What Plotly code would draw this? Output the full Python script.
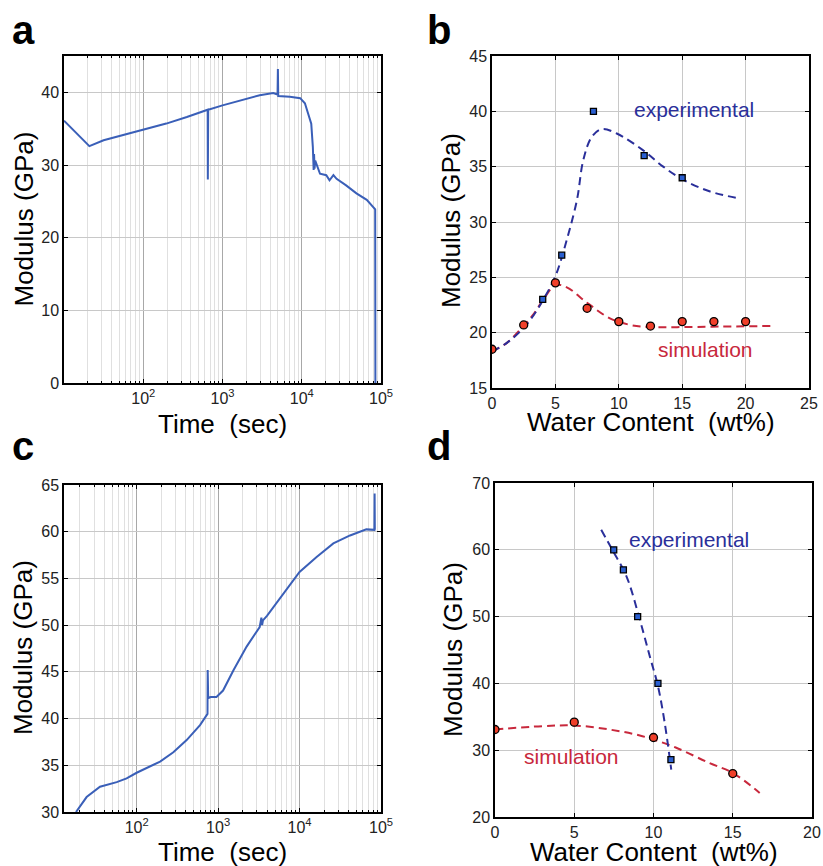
import plotly.graph_objects as go

W, H = 823, 866

# ---------------- data ----------------
# panel a: modulus vs time (log)
a_time = [10, 20.9, 31.6, 100, 195, 355, 631, 650, 653, 656, 660, 1000, 1660, 2950, 4370, 4950, 5000, 5050,
          7080, 9550, 10960, 12020, 13180, 13800, 14130, 14300, 14500, 14800, 17000, 20400, 22400, 25100,
          27500, 36300, 49000, 66100, 83200, 84500, 85000]
a_mod = [36.1, 32.6, 33.4, 34.8, 35.7, 36.6, 37.5, 37.6, 28.0, 37.6, 37.6, 38.2, 38.9, 39.6, 39.9, 39.7, 43.2, 39.5,
         39.4, 39.2, 38.5, 37.1, 35.7, 32.5, 29.3, 31.5, 29.5, 30.6, 28.8, 28.6, 27.9, 28.6,
         28.1, 27.2, 26.1, 25.2, 24.0, 23.9, 0.0]

# panel c: modulus vs time (log)
c_time = [18, 24.3, 35.5, 56.9, 75.3, 100, 194, 282, 411, 600, 741, 745, 750, 755, 760, 813, 955, 1150, 1550,
          2240, 3240, 3400, 3470, 3550, 3980, 6310, 10000, 16200, 26000, 41700, 66100, 83000, 83500, 84000]
c_mod = [30.0, 31.6, 32.7, 33.2, 33.6, 34.2, 35.4, 36.4, 37.7, 39.3, 40.5, 45.2, 41.0, 42.4, 42.2, 42.3, 42.3, 43.0, 45.2,
         47.7, 49.8, 50.8, 50.0, 50.5, 51.0, 53.4, 55.7, 57.3, 58.75, 59.6, 60.25, 60.2, 64.1, 60.2]

# panel b: modulus vs water content
b_exp_x = [4, 5.5, 8, 12, 15]
b_exp_y = [23, 27, 40, 36, 34]
b_sim_x = [0, 2.5, 5, 7.5, 10, 12.5, 15, 17.5, 20]
b_sim_y = [18.5, 20.7, 24.5, 22.2, 21.0, 20.6, 21.0, 21.0, 21.0]
b_expfit_x = [0, 1.2, 2.47, 3.3, 4.05, 5.0, 5.9, 6.7, 7.2, 7.87, 8.66, 9.84, 11.9, 13.5, 15.1, 17.2, 19.45]
b_expfit_y = [18.3, 19.1, 20.4, 21.6, 23.0, 25.1, 28.4, 32.0, 35.6, 37.7, 38.4, 38.0, 36.5, 35.0, 33.8, 32.75, 32.15]
b_simfit_x = [0, 1.2, 2.47, 3.3, 4.05, 5.0, 5.9, 7.5, 9.3, 10.9, 12.5, 14.6, 18.0, 21.95]
b_simfit_y = [18.3, 19.1, 20.6, 21.7, 23.0, 24.3, 24.1, 22.7, 21.3, 20.7, 20.5, 20.5, 20.55, 20.6]

# panel d: modulus vs water content
d_exp_x = [7.49, 8.1, 9.0, 10.28, 11.1]
d_exp_y = [60, 57, 50, 40, 28.6]
d_sim_x = [0, 5, 10, 15]
d_sim_y = [33.1, 34.2, 31.9, 26.5]
d_expfit_x = [6.7, 7.45, 8.3, 9.13, 9.76, 10.28, 10.7, 11.12]
d_expfit_y = [63, 59.8, 56, 49.6, 44.1, 39.6, 34.2, 27.1]
d_simfit_x = [0, 3.0, 5, 7.2, 9.3, 11.4, 13.5, 15, 16.7]
d_simfit_y = [33.1, 33.6, 33.7, 33.1, 32.1, 30.4, 28.1, 26.6, 23.6]

log_major = [100, 1000, 10000, 100000]
log_major_text = ["10<sup>2</sup>", "10<sup>3</sup>", "10<sup>4</sup>", "10<sup>5</sup>"]
log_minor = [m * 10 ** e for e in range(1, 5) for m in range(2, 10)]

# ---------------- style ----------------
FONT = "Liberation Sans, Arial, sans-serif"
LINE_BLUE = "#3a5fb8"
EXP_BLUE = "#2a2f9a"
SIM_RED = "#c8283c"
SQ_FILL = "#2a5fd0"
CI_FILL = "#f0402a"
GRID_MAJ = "#c8c8c8"
GRID_MIN = "#e0e0e0"


def px_x(p):
    return p / W


def px_y(p):
    return 1 - p / H


fig = go.Figure()

# panel domains (pixels)
dom = {
    "a": ((64, 381), (56, 383)),
    "b": ((492, 809), (56, 388)),
    "c": ((64, 381), (485, 812)),
    "d": ((495, 812), (483, 817)),
}
axn = {"a": ("x", "y", ""), "b": ("x2", "y2", "2"), "c": ("x3", "y3", "3"), "d": ("x4", "y4", "4")}

fig.add_trace(go.Scatter(x=a_time, y=a_mod, mode="lines", line=dict(color=LINE_BLUE, width=2),
                         xaxis="x", yaxis="y", showlegend=False))
fig.add_trace(go.Scatter(x=c_time, y=c_mod, mode="lines", line=dict(color=LINE_BLUE, width=2),
                         xaxis="x3", yaxis="y3", showlegend=False))

for (fx, fy, ex, ey, sfx, sfy, sx, sy, xa, ya) in [
    (b_expfit_x, b_expfit_y, b_exp_x, b_exp_y, b_simfit_x, b_simfit_y, b_sim_x, b_sim_y, "x2", "y2"),
    (d_expfit_x, d_expfit_y, d_exp_x, d_exp_y, d_simfit_x, d_simfit_y, d_sim_x, d_sim_y, "x4", "y4"),
]:
    fig.add_trace(go.Scatter(x=sfx, y=sfy, mode="lines", line=dict(color=SIM_RED, width=2, dash="8px,5px", shape="spline"),
                             xaxis=xa, yaxis=ya, showlegend=False))
    fig.add_trace(go.Scatter(x=fx, y=fy, mode="lines", line=dict(color=EXP_BLUE, width=2, dash="8px,5px", shape="spline"),
                             xaxis=xa, yaxis=ya, showlegend=False))
    fig.add_trace(go.Scatter(x=ex, y=ey, mode="markers",
                             marker=dict(symbol="square", size=6, color=SQ_FILL, line=dict(color="black", width=1.3)),
                             xaxis=xa, yaxis=ya, showlegend=False))
    fig.add_trace(go.Scatter(x=sx, y=sy, mode="markers",
                             marker=dict(symbol="circle", size=8, color=CI_FILL, line=dict(color="black", width=1.3)),
                             xaxis=xa, yaxis=ya, showlegend=False))

common = dict(showline=True, linecolor="black", linewidth=1.5, mirror="allticks", ticks="inside", ticklen=4,
              tickcolor="black", tickwidth=1, showgrid=True, gridcolor=GRID_MAJ, gridwidth=1, zeroline=False,
              automargin=False, tickfont=dict(family=FONT, size=16, color="#222"))

layout_axes = {}
for k, ((x0, x1), (y0, y1)) in dom.items():
    xa, ya, n = axn[k]
    layout_axes["xaxis" + n] = dict(domain=[px_x(x0), px_x(x1)], anchor=ya, **common)
    layout_axes["yaxis" + n] = dict(domain=[px_y(y1), px_y(y0)], anchor=xa, **common)

minor_log = dict(tickmode="array", tickvals=log_minor, showgrid=True, gridcolor=GRID_MIN, gridwidth=1,
                 ticks="inside", ticklen=2, tickcolor="black")
layout_axes["xaxis"].update(type="log", range=[1.0, 5.0], tickmode="array", tickvals=log_major,
                            ticktext=log_major_text, minor=minor_log, gridcolor="#a8a8a8")
layout_axes["yaxis"].update(range=[0, 45], tickmode="array", tickvals=[0, 10, 20, 30, 40])
layout_axes["xaxis3"].update(type="log", range=[1.108, 5.0], tickmode="array", tickvals=log_major,
                             ticktext=log_major_text, minor=minor_log, gridcolor="#a8a8a8")
layout_axes["yaxis3"].update(range=[30, 65], tickmode="array", tickvals=[30, 35, 40, 45, 50, 55, 60, 65])
layout_axes["xaxis2"].update(range=[0, 25], tickmode="array", tickvals=[0, 5, 10, 15, 20, 25])
layout_axes["yaxis2"].update(range=[15, 45], tickmode="array", tickvals=[15, 20, 25, 30, 35, 40, 45])
layout_axes["xaxis4"].update(range=[0, 20], tickmode="array", tickvals=[0, 5, 10, 15, 20])
layout_axes["yaxis4"].update(range=[20, 70], tickmode="array", tickvals=[20, 30, 40, 50, 60, 70])

ann = []


def txt(text, x, y, size, color="black", bold=False, angle=0, xanchor="center"):
    ann.append(dict(text=("<b>%s</b>" % text) if bold else text, x=px_x(x), y=px_y(y), xref="paper", yref="paper",
                    showarrow=False, xanchor=xanchor, yanchor="middle", textangle=angle,
                    font=dict(family=FONT, size=size, color=color)))


# panel letters
for lab, x, y in [("a", 10, 30), ("b", 425, 30), ("c", 10, 446), ("d", 425, 446)]:
    txt(lab, x, y, 40, bold=True, xanchor="left")

# axis titles
txt("Modulus (GPa)", 23, 219.5, 26, angle=-90)
txt("Modulus (GPa)", 451, 221, 26, angle=-90)
txt("Modulus (GPa)", 23, 648, 26, angle=-90)
txt("Modulus (GPa)", 453, 650, 26, angle=-90)
txt("Time  (sec)", 222.5, 424, 26)
txt("Time  (sec)", 222.5, 852, 26)
txt("Water Content  (wt%)", 651, 422, 26)
txt("Water Content  (wt%)", 654, 852, 26)

# series labels
txt("experimental", 632, 110, 21, color=EXP_BLUE, xanchor="left")
txt("simulation", 656, 350, 21, color=SIM_RED, xanchor="left")
txt("experimental", 627, 539, 21, color=EXP_BLUE, xanchor="left")
txt("simulation", 522, 756, 21, color=SIM_RED, xanchor="left")

fig.update_layout(template="none", width=W, height=H, margin=dict(l=0, r=0, t=0, b=0, autoexpand=False),
                  paper_bgcolor="white", plot_bgcolor="white", annotations=ann, showlegend=False, **layout_axes)

fig.write_html("out.html", config={"displayModeBar": False},
               post_script="document.body.style.margin='0';document.body.style.padding='0';"
                           "document.body.style.overflow='hidden';")
